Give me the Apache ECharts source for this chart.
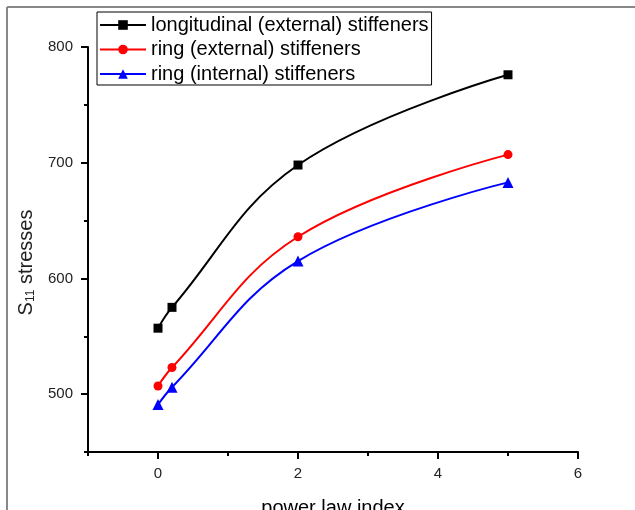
<!DOCTYPE html>
<html>
<head>
<meta charset="utf-8">
<script src="https://cdn.jsdelivr.net/npm/echarts@6/dist/echarts.min.js"></script>
<style>
  html, body { margin: 0; padding: 0; background: #fff; }
  #chart { width: 635px; height: 510px; }
</style>
</head>
<body>
<div id="chart"></div>
<script>
// power law index values
const xValues = [0, 0.2, 2, 5];
// S11 stresses per stiffener type
const longExternal = [557, 575, 698, 776];
const ringExternal = [507, 523, 636, 707];
const ringInternal = [491, 506, 615, 683];

const seriesNames = [
  "longitudinal (external) stiffeners",
  "ring (external) stiffeners",
  "ring (internal) stiffeners",
];

const xMajorTicks = [0, 2, 4, 6];
const xMinorTicks = [-1, 1, 3, 5];
const yMajorTicks = [500, 600, 700, 800];
const yMinorTicks = [450, 550, 650, 750];

function pairs(ys) {
  return xValues.map((x, i) => [x, ys[i]]);
}

const chart = echarts.init(document.getElementById("chart"));

const font = "Liberation Sans, Arial";
const axisLine = { show: true, onZero: false, lineStyle: { color: "#000", width: 2 } };
const smooth = 0.4;

const option = {
  backgroundColor: "#fff",
  animation: false,
  grid: { left: 88, right: 57, top: 47, bottom: 58, containLabel: false, outerBoundsMode: "none" },
  graphic: [
    // outer frame of the figure
    { type: "line", shape: { x1: 7, y1: 7, x2: 635, y2: 7 }, style: { stroke: "#888", lineWidth: 2 } },
    { type: "line", shape: { x1: 7, y1: 7, x2: 7, y2: 510 }, style: { stroke: "#888", lineWidth: 2 } },
  ],
  legend: {
    orient: "vertical",
    left: 97,
    top: 12,
    padding: [3, 3, 1, 2],
    itemWidth: 46,
    itemHeight: 12,
    itemGap: 4.5,
    borderColor: "#000",
    borderWidth: 1,
    backgroundColor: "#fff",
    textStyle: { fontFamily: font, fontSize: 20, color: "#000" },
    data: seriesNames,
  },
  xAxis: [
    {
      type: "value",
      min: -1,
      max: 6,
      interval: 1,
      name: "power law index",
      nameLocation: "middle",
      nameGap: 46,
      nameTextStyle: { fontFamily: font, fontSize: 20, color: "#000" },
      axisLine: axisLine,
      axisTick: { show: true, customValues: xMajorTicks, length: 7, lineStyle: { color: "#000", width: 2 } },
      axisLabel: { customValues: xMajorTicks, fontFamily: font, fontSize: 15, color: "#222", margin: 14 },
      splitLine: { show: false },
    },
    {
      type: "value",
      min: -1,
      max: 6,
      interval: 1,
      position: "bottom",
      axisLine: { show: false, onZero: false },
      axisTick: { show: true, customValues: xMinorTicks, length: 4, lineStyle: { color: "#000", width: 2 } },
      axisLabel: { show: false },
      splitLine: { show: false },
    },
  ],
  yAxis: [
    {
      type: "value",
      min: 450,
      max: 800,
      interval: 50,
      name: "{s|S}{sub|11}{s| stresses}",
      nameLocation: "middle",
      nameRotate: 90,
      nameGap: 50,
      nameTextStyle: {
        padding: [0, 26, 0, 0],
        rich: {
          s: { fontFamily: font, fontSize: 20, color: "#222" },
          sub: { fontFamily: font, fontSize: 12, color: "#222", padding: [9, 0, 0, 0] },
        },
      },
      axisLine: axisLine,
      axisTick: { show: true, customValues: yMajorTicks, length: 7, lineStyle: { color: "#000", width: 2 } },
      axisLabel: { customValues: yMajorTicks, fontFamily: font, fontSize: 15, color: "#222", margin: 15 },
      splitLine: { show: false },
    },
    {
      type: "value",
      min: 450,
      max: 800,
      interval: 50,
      position: "left",
      axisLine: { show: false, onZero: false },
      axisTick: { show: true, customValues: yMinorTicks, length: 4, lineStyle: { color: "#000", width: 2 } },
      axisLabel: { show: false },
      splitLine: { show: false },
    },
  ],
  series: [
    {
      name: seriesNames[0],
      type: "line",
      data: pairs(longExternal),
      smooth: smooth,
      symbol: "rect",
      symbolSize: 9,
      color: "#000",
      lineStyle: { color: "#000", width: 2 },
    },
    {
      name: seriesNames[1],
      type: "line",
      data: pairs(ringExternal),
      smooth: smooth,
      symbol: "circle",
      symbolSize: 9,
      color: "#ff0000",
      lineStyle: { color: "#ff0000", width: 2 },
    },
    {
      name: seriesNames[2],
      type: "line",
      data: pairs(ringInternal),
      smooth: smooth,
      symbol: "triangle",
      symbolSize: 11,
      color: "#0000ff",
      lineStyle: { color: "#0000ff", width: 2 },
    },
  ],
};

option && chart.setOption(option, true);
</script>
</body>
</html>
